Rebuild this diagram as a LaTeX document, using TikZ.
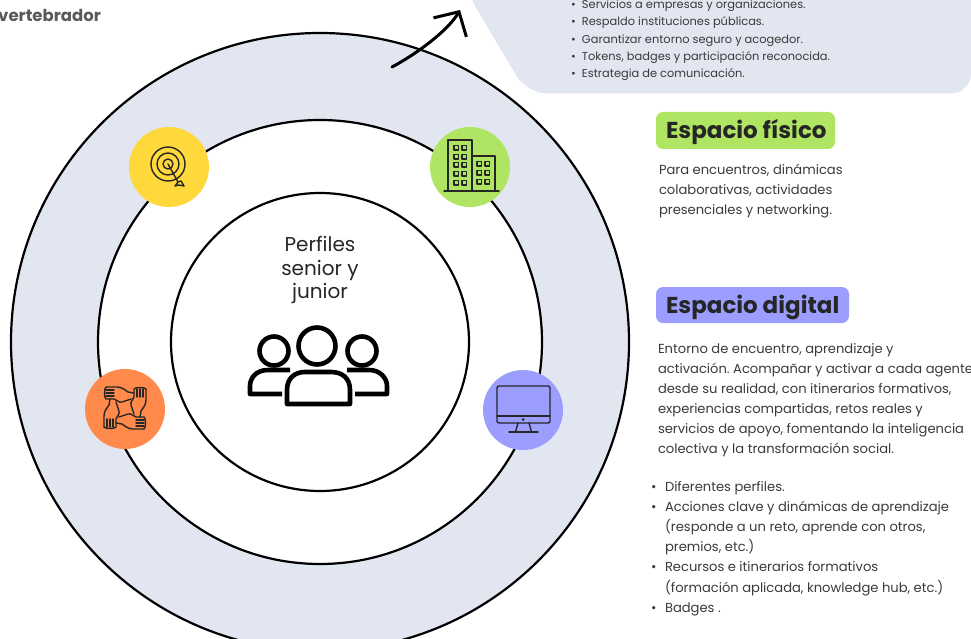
\documentclass[tikz,border=0pt]{standalone}
\usepackage{fontspec}
\setmainfont{Poppins}
\frenchspacing
\usetikzlibrary{arrows.meta, positioning}
\definecolor{panelblue}{HTML}{E2E6F1}
\definecolor{sungold}{HTML}{FFD93B}
\definecolor{leafgreen}{HTML}{AFE562}
\definecolor{coralred}{HTML}{FF8A4B}
\definecolor{softviolet}{HTML}{9B9EFF}
\definecolor{bodygray}{HTML}{3A3A3A}
\newcommand{\topitem}{\makebox[11pt][l]{\textbullet}}
\newcommand{\listitem}{\makebox[14pt][l]{\textbullet}}
\tikzset{
	ring/.style={circle, draw=black, line width=2.2pt, inner sep=0, outer sep=0},
	badge/.style={circle, minimum size=80pt, inner sep=0, outer sep=0},
	tagbox/.style={inner sep=0, outer sep=0, font=\fontsize{23}{26}\selectfont\bfseries, text=black!85, anchor=west},
	bodytext/.style={anchor=north west, align=left, inner sep=0, outer sep=0, text=bodygray, font=\fontsize{13.1}{20.1}\selectfont},
	toplist/.style={anchor=north west, align=left, inner sep=0, outer sep=0, text=bodygray, font=\fontsize{11.4}{17.3}\selectfont},
	iconline/.style={draw=black!85, line width=1.4pt, line cap=round, line join=round},
	peopleline/.style={draw=black, line width=4.6pt, line join=round},
}
\begin{document}
\begin{tikzpicture}[x=1pt, y=-1pt]
	\useasboundingbox (0,0) rectangle (971,639);
	\clip (0,0) rectangle (971,639);

	% rings
	\node[ring, fill=panelblue, minimum size=618pt] (outerring) at (320,342) {};
	\node[ring, fill=white, minimum size=444pt] (middlering) at (320,342) {};
	\node[ring, fill=white, minimum size=298pt] (innerring) at (320,342) {};

	% top panel
	\fill[panelblue, rounded corners=20pt] (466,-9) -- (527,93.5) -- (971,93.5) -- (971,-30) -- (466,-30) -- cycle;

	\coordinate (arrowstart) at (392,67);
	\coordinate (arrowtip) at (460,10);
	\draw[line width=3pt, line cap=round, -{Straight Barb[length=18pt, width=38pt]}] (arrowstart) .. controls (420,52) and (449,29) .. (arrowtip);

	\node[anchor=west, inner sep=0, font=\fontsize{16.5}{18}\selectfont\bfseries, text=black!65] (spine) at (-2,15) {vertebrador};
	\node[toplist] (services) at (571,0) {\topitem Servicios a empresas y organizaciones.\\
		\topitem Respaldo instituciones públicas.\\
		\topitem Garantizar entorno seguro y acogedor.\\
		\topitem Tokens, badges y participación reconocida.\\
		\topitem Estrategia de comunicación.};

	% badges
	\node[badge, fill=sungold] (target) at (169,167) {};
	\node[badge, fill=leafgreen] (building) at (470,167) {};
	\node[badge, fill=coralred] (hands) at (125,409) {};
	\node[badge, fill=softviolet] (monitor) at (523,410) {};

	% target icon
	\foreach \r in {5,11,17} {
		\draw[iconline] (168,164) circle (\r);
	}
	\draw[iconline] (168,164) -- (178,182);
	\draw[iconline] (178,182) -- (175,186) -- (179,185) -- (184,186) -- (181,181) -- cycle;

	% building icon
	\draw[iconline] (448,191) -- (448,140) -- (472,140) -- (472,191);
	\draw[iconline] (472,156) -- (495,156) -- (495,191);
	\draw[iconline] (444,191) -- (499,191);
	\foreach \x in {456,464} {
		\foreach \y in {148,157,165,174,183} {
			\draw[iconline] (\x-2.2,\y-2.2) rectangle (\x+2.2,\y+2.2);
		}
	}
	\foreach \x in {479,487} {
		\foreach \y in {164,173,182} {
			\draw[iconline] (\x-2.2,\y-2.2) rectangle (\x+2.2,\y+2.2);
		}
	}

	% hands icon
	\foreach \a in {0,90,180,270} {
		\begin{scope}[shift={(125,408)}, rotate=\a]
			\draw[iconline] (-19,-21) -- (-8,-21) .. controls (-3,-21) and (0,-18) .. (3,-16) -- (9,-15);
			\draw[iconline] (-19,-21) .. controls (-21,-20) and (-21,-10) .. (-19,-9) -- (-11,-9) .. controls (-8,-8) and (-6,-5) .. (-3,-6) -- (6,-9);
			\foreach \y in {-18,-15,-12} {
				\draw[iconline] (-19,\y) -- (-11,\y);
			}
		\end{scope}
	}

	% monitor icon
	\draw[iconline, rounded corners=2pt] (497,386) rectangle (550,423);
	\draw[iconline] (497,416) -- (550,416);
	\fill[black!85] (523,419.5) circle (1.5);
	\draw[iconline] (518,423) -- (515.5,432);
	\draw[iconline] (529,423) -- (531.5,432);
	\draw[iconline] (509,432) -- (538,432);

	% centre
	\node[align=center, inner sep=0, font=\fontsize{20}{23.5}\selectfont, text=black!85] (profiles) at (320,270) {Perfiles\\senior y\\junior};
	\draw[peopleline] (317,346) circle (18.5);
	\draw[peopleline] (274,351) circle (14.5);
	\draw[peopleline] (362,351) circle (14.5);
	\draw[peopleline] (287,404) -- (287,390) .. controls (287,378) and (295,372) .. (305,372) -- (331,372) .. controls (342,372) and (350,378) .. (350,390) -- (350,404) -- cycle;
	\draw[peopleline] (290,370) -- (268,370) .. controls (256,370) and (250,378) .. (250,386) -- (250,394) -- (282,394);
	\draw[peopleline] (347,370) -- (369,370) .. controls (380,370) and (387,378) .. (387,386) -- (387,394) -- (355,394);

	% right column
	\fill[leafgreen, rounded corners=7pt] (656,112) rectangle (835,149);
	\node[tagbox] (physical) at (666,132) {Espacio físico};
	\node[bodytext] (physicaltext) at (659,164.5) {Para encuentros, dinámicas\\colaborativas, actividades\\presenciales y networking.};

	\fill[softviolet, rounded corners=7pt] (656,287) rectangle (849,323);
	\node[tagbox] (digital) at (666,307) {Espacio digital};
	\node[bodytext] (digitaltext) at (658,343.5) {Entorno de encuentro, aprendizaje y\\
		activación. Acompañar y activar a cada agente\\
		desde su realidad, con itinerarios formativos,\\
		experiencias compartidas, retos reales y\\
		servicios de apoyo, fomentando la inteligencia\\
		colectiva y la transformación social.};
	\node[bodytext] (digitallist) at (651,481.5) {\listitem Diferentes perfiles.\\
		\listitem Acciones clave y dinámicas de aprendizaje\\
		\hspace{14pt}(responde a un reto, aprende con otros,\\
		\hspace{14pt}premios, etc.)\\
		\listitem Recursos e itinerarios formativos\\
		\hspace{14pt}(formación aplicada, knowledge hub, etc.)\\
		\listitem Badges .};
\end{tikzpicture}
\end{document}
